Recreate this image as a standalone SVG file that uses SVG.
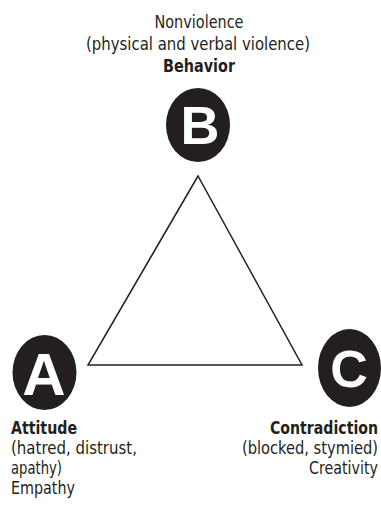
<svg xmlns="http://www.w3.org/2000/svg" width="381" height="509" viewBox="0 0 381 509">
<style>
.lbl{font-family:"DejaVu Sans Condensed","DejaVu Sans",sans-serif;font-stretch:condensed;font-size:18px;fill:#231f20}
.sm{font-size:16px}
.b{font-weight:bold}
.node{fill:#231f20}
.let{font-family:"Liberation Sans",Arial,sans-serif;font-weight:bold;fill:#ffffff;text-anchor:middle}
.edge{fill:none;stroke:#231f20;stroke-width:1.5;stroke-linejoin:miter}
</style>
<rect width="381" height="509" fill="#ffffff"/>
<g id="connectors">
<polygon class="edge" points="198,176 88,365 302,365"/>
</g>
<g id="node-B">
<ellipse class="node" cx="198" cy="125" rx="32" ry="37"/>
<text class="let" x="200" y="144" font-size="54">B</text>
<text class="lbl" x="199" y="28" text-anchor="middle" textLength="89" lengthAdjust="spacingAndGlyphs">Nonviolence</text>
<text class="lbl" x="198" y="50" text-anchor="middle" textLength="224" lengthAdjust="spacingAndGlyphs">(physical and verbal violence)</text>
<text class="lbl b" x="199" y="72" text-anchor="middle" textLength="72" lengthAdjust="spacingAndGlyphs">Behavior</text>
</g>
<g id="node-A">
<ellipse class="node" cx="44.5" cy="372.5" rx="32" ry="37.5"/>
<text class="let" x="44" y="395" font-size="60">A</text>
<text class="lbl b" x="11" y="434" textLength="66" lengthAdjust="spacingAndGlyphs">Attitude</text>
<text class="lbl" x="11" y="454" textLength="126" lengthAdjust="spacingAndGlyphs">(hatred, distrust,</text>
<text class="lbl" x="11" y="474" textLength="51" lengthAdjust="spacingAndGlyphs">apathy)</text>
<text class="lbl" x="11" y="494" textLength="64" lengthAdjust="spacingAndGlyphs">Empathy</text>
</g>
<g id="node-C">
<ellipse class="node" cx="349.5" cy="368" rx="31.5" ry="39"/>
<text class="let" x="349" y="387" font-size="52">C</text>
<text class="lbl sm b" transform="translate(270,434) scale(1,1.125)" x="0" y="0" textLength="108" lengthAdjust="spacingAndGlyphs">Contradiction</text>
<text class="lbl sm" transform="translate(242,454) scale(1,1.125)" x="0" y="0" textLength="136" lengthAdjust="spacingAndGlyphs">(blocked, stymied)</text>
<text class="lbl sm" transform="translate(309,474) scale(1,1.125)" x="0" y="0" textLength="69" lengthAdjust="spacingAndGlyphs">Creativity</text>
</g>
</svg>
